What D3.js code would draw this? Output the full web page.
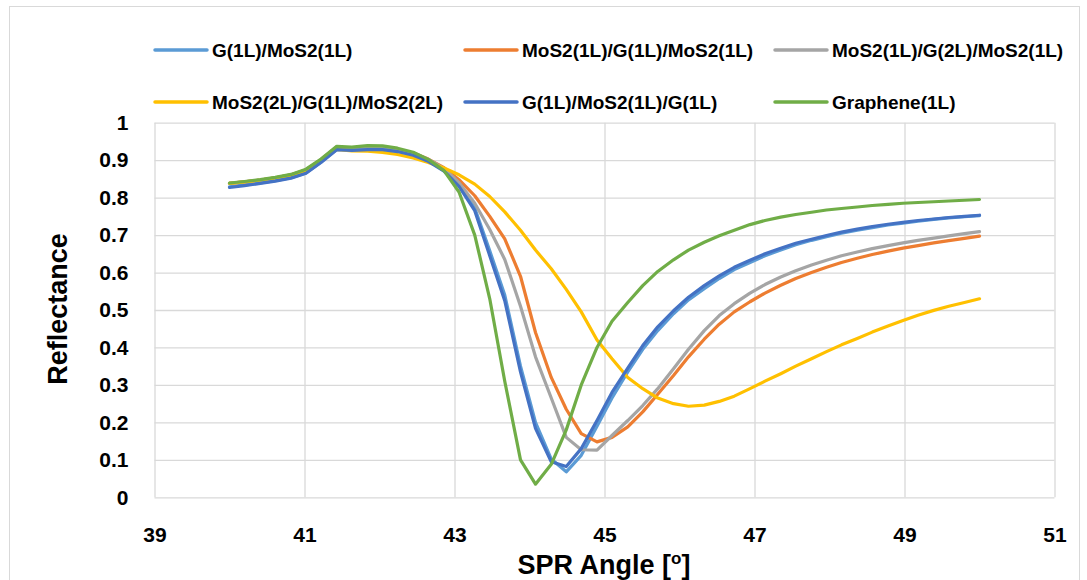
<!DOCTYPE html>
<html>
<head>
<meta charset="utf-8">
<script src="https://cdn.jsdelivr.net/npm/d3@7"></script>
<style>
  body { margin: 0; background: #fff; }
  text { font-family: "Liberation Sans", Arial, sans-serif; font-weight: bold; fill: #000; }
</style>
</head>
<body>
<svg id="chart" width="1087" height="580"></svg>
<script>
// SPR reflectance curves
var angles = [40.00, 40.20, 40.41, 40.61, 40.82, 41.02, 41.22, 41.43, 41.63, 41.84,
  42.04, 42.24, 42.45, 42.65, 42.86, 43.06, 43.27, 43.47, 43.67, 43.88,
  44.08, 44.29, 44.49, 44.69, 44.90, 45.10, 45.31, 45.51, 45.71, 45.92,
  46.12, 46.33, 46.53, 46.73, 46.94, 47.14, 47.35, 47.55, 47.76, 47.96,
  48.16, 48.37, 48.57, 48.78, 48.98, 49.18, 49.39, 49.59, 49.80, 50.00]

var g1Mos1 = [0.829, 0.834, 0.839, 0.845, 0.853, 0.866, 0.895, 0.929, 0.927, 0.929,
  0.929, 0.924, 0.914, 0.898, 0.873, 0.835, 0.772, 0.658, 0.54, 0.35,
  0.20, 0.102, 0.068, 0.112, 0.19, 0.265, 0.335, 0.395, 0.445, 0.49,
  0.527, 0.557, 0.584, 0.608, 0.627, 0.645, 0.66, 0.674, 0.686, 0.696,
  0.705, 0.713, 0.72, 0.727, 0.732, 0.737, 0.742, 0.746, 0.749, 0.752]

var mos1G1Mos1 = [0.838, 0.842, 0.847, 0.853, 0.861, 0.874, 0.901, 0.935, 0.932, 0.935,
  0.934, 0.929, 0.919, 0.903, 0.880, 0.848, 0.805, 0.75, 0.69, 0.59,
  0.44, 0.32, 0.235, 0.17, 0.148, 0.16, 0.188, 0.228, 0.275, 0.325,
  0.375, 0.422, 0.462, 0.495, 0.522, 0.545, 0.566, 0.584, 0.6, 0.614,
  0.627, 0.638, 0.648, 0.657, 0.665, 0.672, 0.679, 0.685, 0.691, 0.697]

var mos1G2Mos1 = [0.838, 0.842, 0.847, 0.853, 0.861, 0.874, 0.901, 0.935, 0.932, 0.935,
  0.934, 0.929, 0.919, 0.902, 0.878, 0.84, 0.785, 0.715, 0.635, 0.51,
  0.375, 0.265, 0.16, 0.127, 0.126, 0.165, 0.205, 0.245, 0.29, 0.343,
  0.395, 0.445, 0.485, 0.517, 0.545, 0.568, 0.588, 0.605, 0.62, 0.633,
  0.645, 0.655, 0.664, 0.672, 0.679, 0.686, 0.692, 0.698, 0.704, 0.709]

var mos2G1Mos2 = [0.838, 0.842, 0.847, 0.853, 0.86, 0.872, 0.898, 0.929, 0.925, 0.924,
  0.921, 0.915, 0.906, 0.894, 0.879, 0.861, 0.836, 0.803, 0.762, 0.713,
  0.66, 0.61, 0.555, 0.495, 0.42, 0.37, 0.32, 0.29, 0.265, 0.25,
  0.243, 0.246, 0.256, 0.27, 0.29, 0.31, 0.33, 0.35, 0.37, 0.389,
  0.407, 0.424, 0.441, 0.457, 0.472, 0.486, 0.499, 0.51, 0.52, 0.53]

var g1Mos1G1 = [0.827, 0.832, 0.838, 0.844, 0.852, 0.865, 0.894, 0.928, 0.926, 0.928,
  0.928, 0.923, 0.913, 0.897, 0.871, 0.83, 0.765, 0.645, 0.525, 0.335,
  0.184, 0.095, 0.082, 0.13, 0.205, 0.28, 0.345, 0.405, 0.455, 0.498,
  0.534, 0.565, 0.591, 0.614, 0.633, 0.65, 0.665, 0.678, 0.689, 0.699,
  0.708, 0.716, 0.723, 0.729, 0.734, 0.739, 0.743, 0.747, 0.75, 0.753]

var graphene1 = [0.839, 0.843, 0.848, 0.854, 0.862, 0.876, 0.903, 0.937, 0.935, 0.939,
  0.938, 0.932, 0.921, 0.902, 0.872, 0.815, 0.70, 0.53, 0.31, 0.10,
  0.035, 0.088, 0.18, 0.30, 0.40, 0.47, 0.52, 0.565, 0.603, 0.634,
  0.66, 0.681, 0.698, 0.713, 0.728, 0.739, 0.748, 0.755, 0.761, 0.767,
  0.771, 0.775, 0.779, 0.782, 0.785, 0.787, 0.789, 0.791, 0.793, 0.795]

var seriesNames = ['G(1L)/MoS2(1L)', 'MoS2(1L)/G(1L)/MoS2(1L)', 'MoS2(1L)/G(2L)/MoS2(1L)',
  'MoS2(2L)/G(1L)/MoS2(2L)', 'G(1L)/MoS2(1L)/G(1L)', 'Graphene(1L)']
var seriesValues = [g1Mos1, mos1G1Mos1, mos1G2Mos1, mos2G1Mos2, g1Mos1G1, graphene1]
var colors = ['#5B9BD5', '#ED7D31', '#A5A5A5', '#FFC000', '#4472C4', '#70AD47']

var xTicks = [39, 41, 43, 45, 47, 49, 51]
var yTicks = [0, 0.1, 0.2, 0.3, 0.4, 0.5, 0.6, 0.7, 0.8, 0.9, 1]

var conf = {
  left: 154.5,
  right: 1054.5,
  top: 122.7,
  bottom: 497.3
}

var svg = d3.select('#chart')

// Chart frame
svg.append('rect')
  .attr('x', 9.5)
  .attr('y', 6.5)
  .attr('width', 1070)
  .attr('height', 620)
  .attr('fill', 'none')
  .attr('stroke', '#d9d9d9')

var x = d3.scaleLinear().domain([39, 51]).range([conf.left, conf.right])
var y = d3.scaleLinear().domain([0, 1]).range([conf.bottom, conf.top])

// Axes with gridlines
var xAxis = svg.append('g')
  .attr('transform', 'translate(0,' + conf.bottom + ')')
  .call(d3.axisBottom(x).tickValues(xTicks).tickSize(-(conf.bottom - conf.top)).tickPadding(30).tickFormat(d3.format('d')))
xAxis.select('.domain').remove()

var yAxis = svg.append('g')
  .attr('transform', 'translate(' + conf.left + ',0)')
  .call(d3.axisLeft(y).tickValues(yTicks).tickSize(-(conf.right - conf.left)).tickPadding(26).tickFormat(d3.format('~g')))
yAxis.select('.domain').remove()

svg.selectAll('.tick line')
  .attr('stroke', '#d9d9d9')
  .attr('stroke-width', 1.3)

svg.selectAll('.tick text')
  .style('font-family', '"Liberation Sans", Arial, sans-serif')
  .style('font-weight', 'bold')
  .style('font-size', '21px')
  .attr('fill', '#000')

// Lines
var line = d3.line()
  .x(function (d, i) { return x(angles[i]) })
  .y(function (d) { return y(d) })

svg.selectAll('path.series')
  .data(seriesValues)
  .enter()
  .append('path')
  .attr('class', 'series')
  .attr('d', line)
  .attr('fill', 'none')
  .attr('stroke', function (d, i) { return colors[i] })
  .attr('stroke-width', 3.2)
  .attr('stroke-linejoin', 'round')
  .attr('stroke-linecap', 'round')

// Legend
var legendCols = [155, 465, 775]
var legendRows = [50, 102]

var items = svg.selectAll('g.legend')
  .data(seriesNames)
  .enter()
  .append('g')
  .attr('class', 'legend')
  .attr('transform', function (d, i) {
    return 'translate(' + legendCols[i % 3] + ',' + legendRows[Math.floor(i / 3)] + ')'
  })

items.append('line')
  .attr('x1', 0)
  .attr('x2', 52)
  .attr('stroke', function (d, i) { return colors[i] })
  .attr('stroke-width', 3.5)
  .attr('stroke-linecap', 'round')

items.append('text')
  .attr('x', 57)
  .attr('dy', '0.36em')
  .style('font-size', '19px')
  .text(function (d) { return d })

// Axis titles
svg.append('text')
  .attr('transform', 'translate(67,309) rotate(-90)')
  .attr('text-anchor', 'middle')
  .style('font-size', '27px')
  .text('Reflectance')

var xTitle = svg.append('text')
  .attr('x', 604)
  .attr('y', 574)
  .attr('text-anchor', 'middle')
  .style('font-size', '27px')
xTitle.append('tspan').text('SPR Angle [')
xTitle.append('tspan').attr('dy', -10).style('font-size', '17px').text('o')
xTitle.append('tspan').attr('dy', 10).text(']')
</script>
</body>
</html>
